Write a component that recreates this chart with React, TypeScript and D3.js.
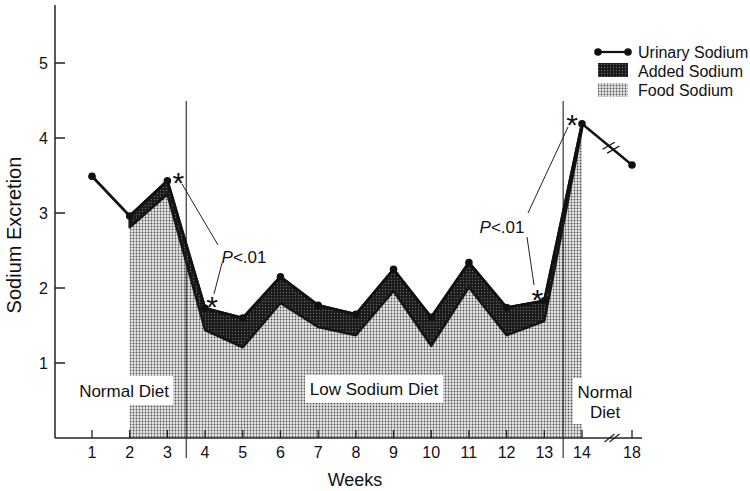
import React from "react";
import * as d3 from "d3";

const weeks = [1, 2, 3, 4, 5, 6, 7, 8, 9, 10, 11, 12, 13, 14];
const urinary = [3.49, 2.96, 3.43, 1.73, 1.6, 2.15, 1.77, 1.65, 2.25, 1.61, 2.34, 1.74, 1.83, 4.19];
const foodWeeks = [2, 3, 4, 5, 6, 7, 8, 9, 10, 11, 12, 13, 14];
const food = [2.81, 3.25, 1.44, 1.21, 1.8, 1.48, 1.37, 1.96, 1.23, 2.01, 1.37, 1.56, 4.12];
const followWeek = 18;
const followValue = 3.64;
const yTicks = [1, 2, 3, 4, 5];
const xTickLabels = ["1", "2", "3", "4", "5", "6", "7", "8", "9", "10", "11", "12", "13", "14", "18"];
const starWeeks = [3, 4, 13, 14];

const FONT = "'Liberation Sans', Arial, Helvetica, sans-serif";

export default function App() {
  const W = 750, H = 491;
  const x = d3.scaleLinear().domain([1, 14]).range([92, 582]);
  const y = d3.scaleLinear().domain([0, 5]).range([438, 63]);
  const x18 = x(14) + 50;
  const axisY = y(0);
  const axisX = 55;

  const urinaryMap = new Map(weeks.map((w, i) => [w, urinary[i]]));
  const bandData = foodWeeks.map((w, i) => ({ w, lo: food[i], hi: urinaryMap.get(w) as number }));

  const foodArea = d3.area<{ w: number; lo: number; hi: number }>()
    .x(d => x(d.w)).y0(axisY).y1(d => y(d.lo))(bandData) as string;
  const bandArea = d3.area<{ w: number; lo: number; hi: number }>()
    .x(d => x(d.w)).y0(d => y(d.lo)).y1(d => y(d.hi))(bandData) as string;
  const urinaryLine = d3.line<number>().x((d, i) => x(weeks[i])).y(d => y(d))(urinary) as string;

  const pts = weeks.map((w, i) => ({ x: x(w), y: y(urinary[i]) }));
  const p14 = pts[13];
  const p18 = { x: x18, y: y(followValue) };
  const bx = (p14.x + p18.x) / 2 + 4;
  const by = p14.y + (p18.y - p14.y) * ((bx - p14.x) / (p18.x - p14.x));
  const ang = Math.atan2(p18.y - p14.y, p18.x - p14.x);
  const perp = ang + Math.PI / 2 + 0.35;

  const tickXs = [...weeks.map(w => x(w)), x18];

  const star = (cx: number, cy: number, key: string) => (
    <text key={key} x={cx} y={cy + 17} fontSize={30} textAnchor="middle" fontFamily={FONT} fill="#111">*</text>
  );

  const starOff = [
    { dx: 11, dy: -5 },
    { dx: 7, dy: -8 },
    { dx: -7, dy: -8 },
    { dx: -10, dy: -6 },
  ];

  return (
    <svg width={W} height={H} style={{ position: "absolute", left: 0, top: 0, background: "#fff" }}>
      <defs>
        <pattern id="lightDots" width="3" height="3" patternUnits="userSpaceOnUse">
          <rect width="3" height="3" fill="#e6e6e6" />
          <circle cx="1.5" cy="1.5" r="0.9" fill="#505050" />
        </pattern>
        <pattern id="darkDots" width="3" height="3" patternUnits="userSpaceOnUse">
          <rect width="3" height="3" fill="#1a1a1a" />
          <circle cx="1.5" cy="1.5" r="0.7" fill="#666" />
        </pattern>
      </defs>

      {/* food sodium area */}
      <path d={foodArea} fill="url(#lightDots)" />
      {/* added sodium band */}
      <path d={bandArea} fill="url(#darkDots)" stroke="#151515" strokeWidth={2.5} strokeLinejoin="round" />

      {/* label boxes */}
      <rect x={75} y={376} width={98} height={29} fill="#fff" />
      <text x={124} y={397} fontSize={17} textAnchor="middle" fontFamily={FONT} fill="#111">Normal Diet</text>
      <rect x={305} y={375} width={138} height={28} fill="#fff" />
      <text x={374} y={395} fontSize={17} textAnchor="middle" fontFamily={FONT} fill="#111">Low Sodium Diet</text>
      <rect x={573} y={378} width={62} height={46} fill="#fff" />
      <text x={605} y={398} fontSize={17} textAnchor="middle" fontFamily={FONT} fill="#111">Normal</text>
      <text x={605} y={418} fontSize={17} textAnchor="middle" fontFamily={FONT} fill="#111">Diet</text>

      {/* phase divider lines */}
      {[3.5, 13.5].map(w => (
        <line key={w} x1={x(w)} x2={x(w)} y1={101} y2={458} stroke="#222" strokeWidth={1.1} />
      ))}

      {/* urinary sodium line */}
      <path d={urinaryLine} fill="none" stroke="#111" strokeWidth={2.7} strokeLinejoin="round" />
      <line x1={p14.x} y1={p14.y} x2={p18.x} y2={p18.y} stroke="#111" strokeWidth={2.3} />
      {[-3, 3].map(o => (
        <line key={o}
          x1={bx + o * Math.cos(ang) - 7 * Math.cos(perp)} y1={by + o * Math.sin(ang) - 7 * Math.sin(perp)}
          x2={bx + o * Math.cos(ang) + 7 * Math.cos(perp)} y2={by + o * Math.sin(ang) + 7 * Math.sin(perp)}
          stroke="#111" strokeWidth={1.3} />
      ))}
      {pts.map((p, i) => (
        <circle key={i} cx={p.x} cy={p.y} r={3.8} fill="#111" />
      ))}
      <circle cx={p18.x} cy={p18.y} r={3.8} fill="#111" />

      {/* axes */}
      <line x1={axisX} x2={axisX} y1={5} y2={axisY} stroke="#222" strokeWidth={1.5} />
      <line x1={axisX} x2={x18 + 10} y1={axisY} y2={axisY} stroke="#222" strokeWidth={1.5} />
      {yTicks.map(t => (
        <g key={t}>
          <line x1={axisX} x2={axisX + 10} y1={y(t)} y2={y(t)} stroke="#222" strokeWidth={1.5} />
          <text x={48} y={y(t) + 6} fontSize={16} textAnchor="end" fontFamily={FONT} fill="#111">{t}</text>
        </g>
      ))}
      {tickXs.map((tx, i) => (
        <g key={i}>
          <line x1={tx} x2={tx} y1={axisY} y2={axisY - 8} stroke="#222" strokeWidth={1.3} />
          <text x={tx} y={458} fontSize={16} textAnchor="middle" fontFamily={FONT} fill="#111">{xTickLabels[i]}</text>
        </g>
      ))}
      {/* axis break */}
      {[-2.5, 2.5].map(o => (
        <line key={o} x1={612 + o - 5} y1={axisY + 4} x2={612 + o + 5} y2={axisY - 4} stroke="#222" strokeWidth={1.2} />
      ))}

      {/* axis titles */}
      <text x={355} y={486} fontSize={18} textAnchor="middle" fontFamily={FONT} fill="#111">Weeks</text>
      <text transform="translate(21,235) rotate(-90)" fontSize={20} textAnchor="middle" fontFamily={FONT} fill="#111">Sodium Excretion</text>

      {/* significance annotations */}
      {starWeeks.map((w, i) => star(x(w) + starOff[i].dx, y(urinaryMap.get(w) as number) + starOff[i].dy, "s" + i))}
      <line x1={182} y1={184} x2={218} y2={245} stroke="#222" strokeWidth={1} />
      <line x1={222} y1={263} x2={214} y2={294} stroke="#222" strokeWidth={1} />
      <text x={244} y={263} fontSize={17} textAnchor="middle" fontFamily={FONT} fill="#111"><tspan fontStyle="italic">P</tspan>&lt;.01</text>
      <line x1={568} y1={127} x2={528} y2={213} stroke="#222" strokeWidth={1} />
      <line x1={527} y1={237} x2={534} y2={285} stroke="#222" strokeWidth={1} />
      <text x={502} y={233} fontSize={17} textAnchor="middle" fontFamily={FONT} fill="#111"><tspan fontStyle="italic">P</tspan>&lt;.01</text>

      {/* legend */}
      <line x1={598} x2={628} y1={52} y2={52} stroke="#111" strokeWidth={2.2} />
      <circle cx={598} cy={52} r={3.8} fill="#111" />
      <circle cx={628} cy={52} r={3.8} fill="#111" />
      <text x={638} y={57.5} fontSize={16} fontFamily={FONT} fill="#111">Urinary Sodium</text>
      <rect x={598} y={63} width={30} height={14} fill="url(#darkDots)" />
      <text x={638} y={76.5} fontSize={16} fontFamily={FONT} fill="#111">Added Sodium</text>
      <rect x={598} y={83} width={30} height={14} fill="url(#lightDots)" />
      <text x={638} y={95.5} fontSize={16} fontFamily={FONT} fill="#111">Food Sodium</text>
    </svg>
  );
}
